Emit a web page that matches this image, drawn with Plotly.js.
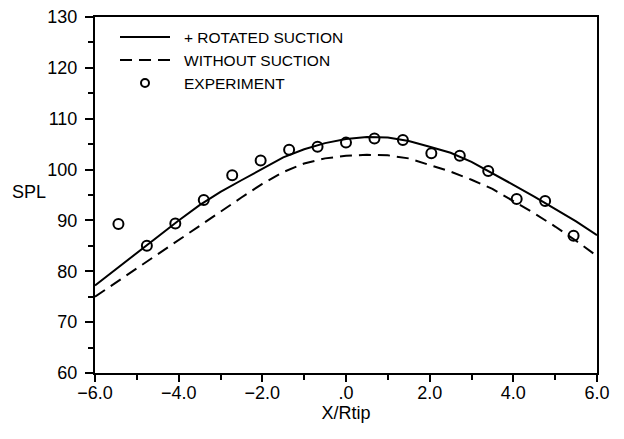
<!DOCTYPE html>
<html>
<head>
<meta charset="utf-8">
<script src="https://cdn.plot.ly/plotly-3.0.1.min.js"></script>
<style>html,body{margin:0;padding:0;background:#fff;}#chart{width:624px;height:439px;}</style>
</head>
<body>
<div id="chart"></div>
<script>
// Predicted curves (x = X/Rtip)
const xCurve = [-6,-5.5,-5,-4.5,-4,-3.5,-3,-2.5,-2,-1.5,-1,-0.5,0,0.5,1,1.5,2,2.5,3,3.5,4,4.5,5,5.5,6];
const splRotatedSuction = [77.2,80.4,83.6,86.8,90.0,93.0,95.6,97.9,100.2,102.4,104.0,105.2,106.0,106.4,106.3,105.6,104.5,103.3,101.5,99.3,97.0,94.7,92.3,89.8,87.1];
const splWithoutSuction = [75.0,77.8,80.6,83.4,86.2,89.0,91.8,94.5,97.2,99.5,101.2,102.2,102.7,102.9,102.8,102.2,100.9,99.6,98.0,96.2,93.8,91.4,88.8,86.0,83.0];
// Experiment
const xExp = [-5.44,-4.76,-4.08,-3.40,-2.72,-2.04,-1.36,-0.68,0.0,0.68,1.36,2.04,2.72,3.40,4.08,4.76,5.44];
const splExp = [89.3,85.0,89.4,94.0,98.9,101.8,103.9,104.5,105.3,106.1,105.8,103.2,102.7,99.7,94.2,93.8,87.0];
// Tick labels
const xTickVals = [-6,-4,-2,0,2,4,6];
const xTickText = ["\u22126.0","\u22124.0","\u22122.0",".0","2.0","4.0","6.0"];
const yTickVals = [60,70,80,90,100,110,120,130];
// Legend labels
const legendNames = ["+ ROTATED SUCTION","WITHOUT SUCTION","EXPERIMENT"];

const tickFont = {family:"Liberation Sans, Arial, sans-serif", size:18, color:"#000"};
const legFont = {family:"Liberation Sans, Arial, sans-serif", size:15.5, color:"#000"};

const traces = [
  {x:xCurve, y:splRotatedSuction, mode:"lines", name:legendNames[0], line:{color:"#000", width:2}, showlegend:false},
  {x:xCurve, y:splWithoutSuction, mode:"lines", name:legendNames[1], line:{color:"#000", width:2, dash:"12px,7px"}, showlegend:false},
  {x:xExp, y:splExp, mode:"markers", name:legendNames[2], marker:{symbol:"circle-open", size:10, color:"#000", line:{width:2, color:"#000"}}, showlegend:false}
];

// Legend drawn in paper coordinates (key, not data)
const plotL = 95, plotT = 17, plotW = 502, plotH = 356;
function px(xp){return (xp-plotL)/plotW;}
function py(yp){return 1-(yp-plotT)/plotH;}
const legY = [37,60,83];
const shapes = [
  {type:"line", xref:"paper", yref:"paper", x0:px(120), x1:px(170), y0:py(legY[0]), y1:py(legY[0]), line:{color:"#000", width:2}},
  {type:"line", xref:"paper", yref:"paper", x0:px(120), x1:px(170), y0:py(legY[1]), y1:py(legY[1]), line:{color:"#000", width:2, dash:"12px,7px"}},
  {type:"circle", xref:"paper", yref:"paper", x0:px(141), x1:px(149), y0:py(legY[2]-4), y1:py(legY[2]+4), line:{color:"#000", width:2}}
];
const annotations = legendNames.map((t,i)=>({
  text:t, xref:"paper", yref:"paper", x:px(182), y:py(legY[i]), xanchor:"left", yanchor:"middle", showarrow:false, font:legFont
}));
annotations.push({text:"SPL", xref:"paper", yref:"paper", x:px(29), y:py(192), xanchor:"center", yanchor:"middle", showarrow:false, font:tickFont});

const layout = {
  width:624, height:439,
  margin:{l:95, r:27, t:17, b:66},
  paper_bgcolor:"#fff", plot_bgcolor:"#fff",
  showlegend:false,
  xaxis:{
    range:[-6,6], tickvals:xTickVals, ticktext:xTickText,
    ticks:"outside", ticklen:7, tickwidth:2, tickcolor:"#000",
    minor:{dtick:1, tick0:-6, ticks:"outside", ticklen:5, tickwidth:2, tickcolor:"#000"},
    showline:true, linewidth:2, linecolor:"#000", mirror:true,
    showgrid:false, zeroline:false, tickfont:tickFont, ticklabelstandoff:-5,
    title:{text:"X/Rtip", font:tickFont, standoff:4}
  },
  yaxis:{
    range:[60,130], tickvals:yTickVals,
    ticks:"outside", ticklen:8, tickwidth:2, tickcolor:"#000",
    minor:{dtick:5, tick0:60, ticks:"outside", ticklen:5, tickwidth:2, tickcolor:"#000"},
    showline:true, linewidth:2, linecolor:"#000", mirror:true,
    showgrid:false, zeroline:false, tickfont:tickFont, ticklabelstandoff:4
  },
  shapes:shapes, annotations:annotations
};
Plotly.newPlot("chart", traces, layout, {staticPlot:true, displayModeBar:false});
</script>
</body>
</html>
